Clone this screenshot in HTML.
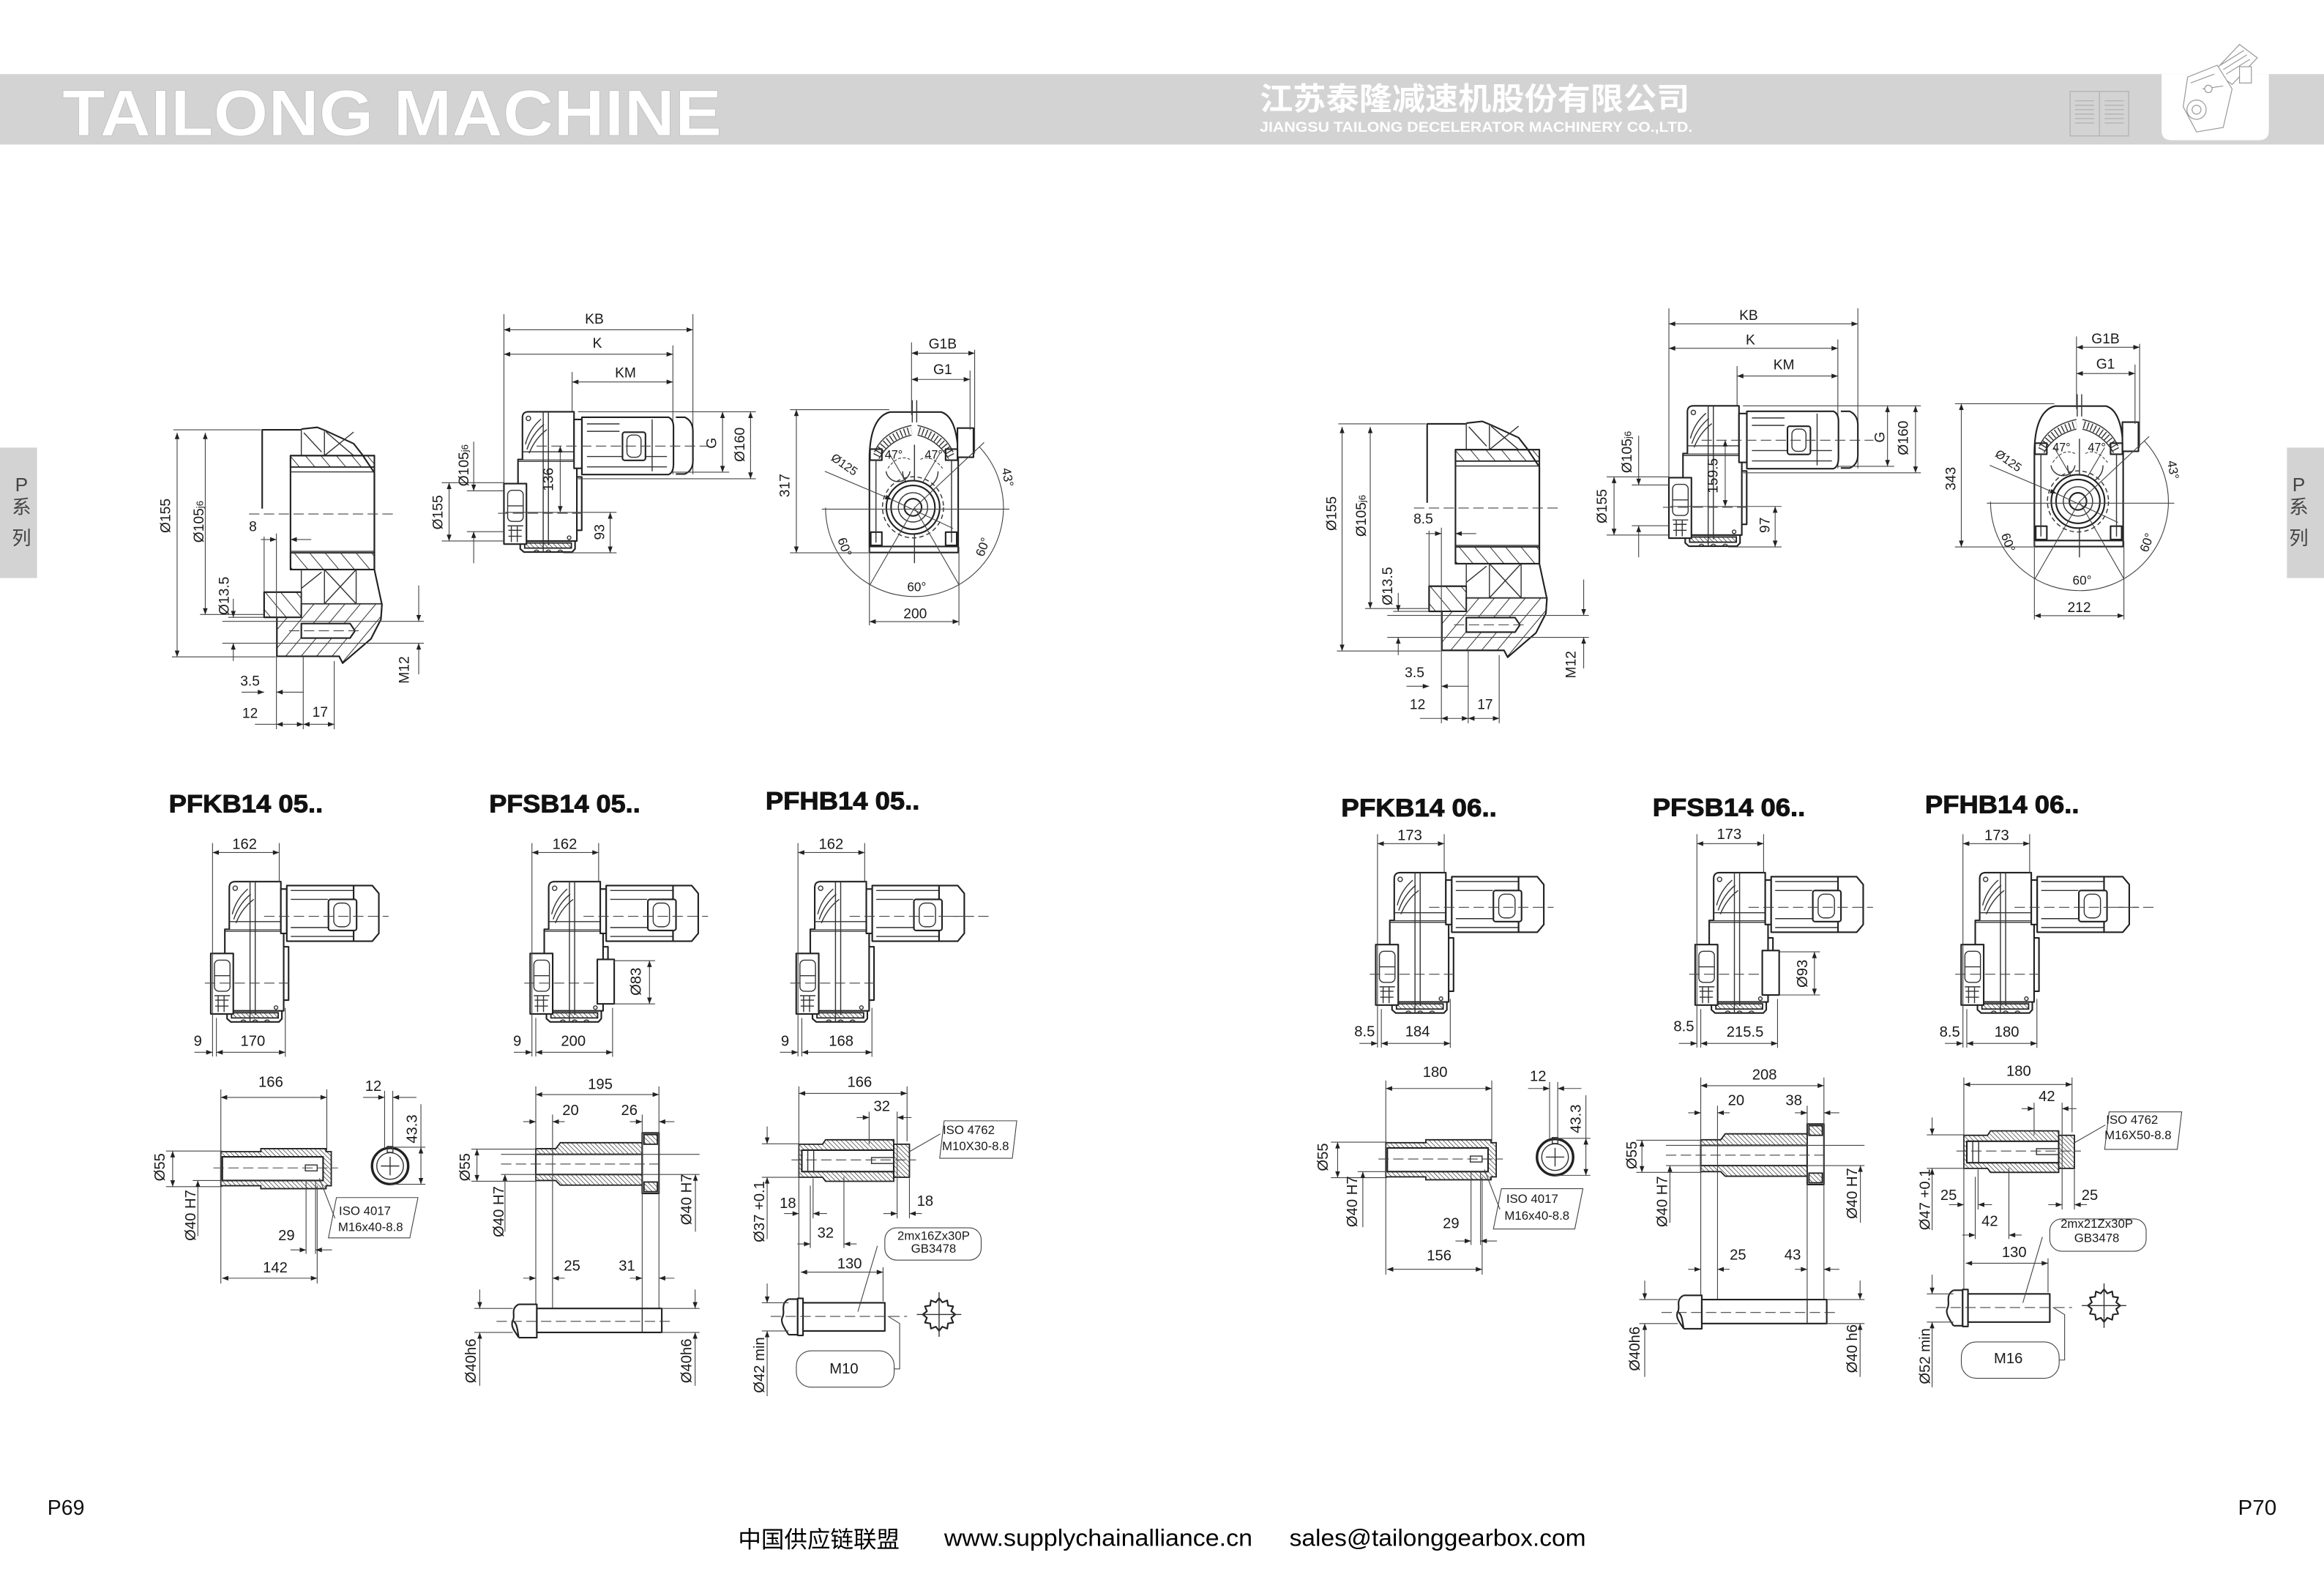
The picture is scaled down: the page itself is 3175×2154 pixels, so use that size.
<!DOCTYPE html>
<html><head><meta charset="utf-8">
<style>
html,body{margin:0;padding:0;background:#fff;width:3175px;height:2154px;overflow:hidden}
svg{display:block}
.o{fill:none;stroke:#222;stroke-width:1.05;stroke-linejoin:round}
.w{fill:#fff}
.m{fill:none;stroke:#333;stroke-width:0.7}
.t{fill:none;stroke:#444;stroke-width:0.55}
.c{fill:none;stroke:#444;stroke-width:0.55;stroke-dasharray:7 3}
.hf{fill:url(#h1);stroke:#222;stroke-width:0.9}
.hg{fill:url(#h3);stroke:#222;stroke-width:0.9}
.hs{fill:url(#h2);stroke:#222;stroke-width:0.9}
.da{marker-start:url(#ar);marker-end:url(#ar)}
.de{marker-end:url(#ar)}
.ds{marker-start:url(#ar)}
text{font-family:"Liberation Sans",Arial,sans-serif;fill:#1a1a1a}
.d{font-size:9.5px;text-anchor:middle;dominant-baseline:central}
.e{font-size:10px;text-anchor:middle;dominant-baseline:central}
.s{font-size:8.3px;text-anchor:middle;dominant-baseline:central}
.ti{font-size:17px;font-weight:bold;text-anchor:middle;dominant-baseline:central;fill:#111;stroke:#111;stroke-width:0.45}
</style></head><body>
<svg width="3175" height="2154" viewBox="0 0 1568 1064" preserveAspectRatio="none" xmlns="http://www.w3.org/2000/svg">
<defs>
<marker id="ar" viewBox="0 0 8 6" refX="8" refY="3" markerWidth="4.4" markerHeight="3.2" markerUnits="userSpaceOnUse" orient="auto-start-reverse"><path d="M0,0L8,3L0,6z" fill="#222"/></marker>
<pattern id="h1" width="8" height="8" patternUnits="userSpaceOnUse" patternTransform="rotate(-40)"><line x1="0" y1="0" x2="0" y2="8" stroke="#222" stroke-width="0.9"/></pattern>
<pattern id="h3" width="8" height="8" patternUnits="userSpaceOnUse" patternTransform="rotate(40)"><line x1="0" y1="0" x2="0" y2="8" stroke="#222" stroke-width="0.9"/></pattern>
<pattern id="h2" width="2.2" height="2.2" patternUnits="userSpaceOnUse" patternTransform="rotate(-45)"><line x1="0" y1="0" x2="0" y2="2.2" stroke="#222" stroke-width="0.65"/></pattern>
<g id="gu">
<path class="o w" d="M9.5,32.2H49.2V87.2H9.5Z"/>
<path class="o w" d="M12.5,32.2V4Q12.5,0 16.5,0H47.3V32.2"/>
<path class="o" d="M11,87.2V92.5L13.5,94.7H46L48,92.5V87.2"/>
<path class="hs" d="M14,88.5H45.5V92H14Z"/>
<path class="m" d="M20,94.7Q22,92 24,94.7M28,94.7Q30,92 32,94.7M36,94.7Q38,92 40,94.7"/>
<rect class="o w" x="0" y="48.5" width="15.2" height="40.8"/>
<rect class="m" x="2.5" y="53" width="10.5" height="21" rx="3"/>
<path class="m" d="M2.5,63.5H13M2.5,77H13M3,80H12M3,84H12M5,77V88M9,77V88"/>
<circle class="m" cx="16.5" cy="4.5" r="1.5"/>
<path class="m" d="M14.5,22Q17,12 25,5M15.5,25.5Q19,15 27,8.5M17,28Q21,18 29,12"/>
<path class="m" d="M26.5,0V94.7M30,0V90M12.5,27H47.3M9.5,33.5H49.2"/>
<path class="o" d="M49.2,44H52.5V80H49.2"/>
<circle class="m" cx="44" cy="85" r="1.2"/>
<path class="c" d="M-4,68.5H53"/>
</g>
<g id="sm">
<rect class="o w" x="47.3" y="5" width="4" height="30"/>
<rect class="o w" x="51.3" y="2.7" width="45.1" height="37.5"/>
<path class="o w" d="M96.4,2.7H109L113.4,8V35L109,40.2H96.4Z"/>
<path class="m" d="M54,6H96M54,12H79M54,31H96M54,37H96"/>
<rect class="o w" x="79.4" y="12" width="19" height="21" rx="1.5"/>
<rect class="m" x="83" y="14.5" width="11" height="16" rx="4"/>
<path class="c" d="M36,23.4H120"/>
</g>
<g id="sd">
<path class="t" d="M1.2,-26V118M46.2,-26V0M3.8,92V118"/>
<path class="t da" d="M1.2,-19.6H46.2"/>
<path class="t de" d="M-11,115.2H1.2"/>
</g>
<g id="sp">
<polygon class="o w" points="11,0 8.21,2.2 9.53,5.5 6.01,6.01 5.5,9.53 2.2,8.21 0,11 -2.2,8.21 -5.5,9.53 -6.01,6.01 -9.53,5.5 -8.21,2.2 -11,0 -8.21,-2.2 -9.53,-5.5 -6.01,-6.01 -5.5,-9.53 -2.2,-8.21 0,-11 2.2,-8.21 5.5,-9.53 6.01,-6.01 9.53,-5.5 8.21,-2.2"/>
<path class="m" d="M-15,0H15M0,-15V15"/>
</g>
</defs>

<!-- HEADER -->
<rect x="0" y="50" width="1568" height="47.5" fill="#d3d3d3"/>
<text x="42" y="91.4" textLength="445" lengthAdjust="spacingAndGlyphs" style="font-size:44px;font-weight:bold;fill:#fff;stroke:#c0c0c0;stroke-width:0.4">TAILONG MACHINE</text>
<text x="850" y="74" textLength="290" lengthAdjust="spacingAndGlyphs" style="font-family:'Liberation Sans','Noto Sans CJK SC',sans-serif;font-size:21px;font-weight:bold;fill:#fff">江苏泰隆减速机股份有限公司</text>
<text x="850" y="89" textLength="292" lengthAdjust="spacingAndGlyphs" style="font-size:9.5px;font-weight:bold;fill:#fff">JIANGSU TAILONG DECELERATOR MACHINERY CO.,LTD.</text>
<g fill="none" stroke="#b5b5b5" stroke-width="0.7">
<rect x="1396.7" y="61.7" width="39.5" height="30"/>
<path d="M1416.5,61.7V91.7M1400,68H1413M1400,71H1413M1400,74H1413M1400,77H1413M1400,80H1413M1400,83H1413M1420,68H1433M1420,71H1433M1420,74H1433M1420,77H1433M1420,80H1433M1420,83H1433"/>
</g>
<path d="M1458.4,50V88Q1458.4,94.6 1465,94.6H1524.2Q1530.8,94.6 1530.8,88V50Z" fill="#fff"/>
<g stroke="#9a9a9a" stroke-width="0.6" fill="#fff">
<path d="M1494,48L1511,30L1523,39L1506,57Z"/>
<path d="M1498,44L1514,34M1500,47L1516,37M1502,50L1518,40"/>
<rect x="1511" y="45" width="8" height="11"/>
<path d="M1476,52L1496,44L1506,60L1500,86L1482,89L1473,72Z"/>
<path d="M1478,56L1494,50M1486,60L1500,58"/>
<circle cx="1482" cy="74" r="6.5"/><circle cx="1482" cy="74" r="3"/>
<circle cx="1490" cy="60" r="2.5"/>
</g>

<!-- SIDE TABS -->
<rect x="0" y="302" width="25" height="88" fill="#d3d3d3"/>
<text x="14.5" y="327" style="font-family:'Liberation Sans','Noto Sans CJK SC',sans-serif;font-size:13px;fill:#444;text-anchor:middle;dominant-baseline:central">P</text>
<text x="14.5" y="342" style="font-family:'Liberation Sans','Noto Sans CJK SC',sans-serif;font-size:13px;fill:#444;text-anchor:middle;dominant-baseline:central">系</text>
<text x="14.5" y="363" style="font-family:'Liberation Sans','Noto Sans CJK SC',sans-serif;font-size:13px;fill:#444;text-anchor:middle;dominant-baseline:central">列</text>
<rect x="1543" y="302" width="25" height="88" fill="#d3d3d3"/>
<text x="1551" y="327" style="font-family:'Liberation Sans','Noto Sans CJK SC',sans-serif;font-size:13px;fill:#444;text-anchor:middle;dominant-baseline:central">P</text>
<text x="1551" y="342" style="font-family:'Liberation Sans','Noto Sans CJK SC',sans-serif;font-size:13px;fill:#444;text-anchor:middle;dominant-baseline:central">系</text>
<text x="1551" y="363" style="font-family:'Liberation Sans','Noto Sans CJK SC',sans-serif;font-size:13px;fill:#444;text-anchor:middle;dominant-baseline:central">列</text>

<!-- TOP GEOMETRY LEFT -->
<g id="topL">
<!-- section view -->
<path class="o" d="M176.9,343.2V290H203.3"/>
<path class="hg" d="M203.3,407.4H257.7L257,417.9L250.3,431L231.2,447.4L228.8,442.8H186.8V416.5H203.3Z"/>
<path class="hf" d="M178.2,399.5H203.3V416.5H178.2Z"/>
<path class="o w" d="M203.3,420.7H236.2L239.5,425.6L236.2,430.5H203.3Z"/>
<path class="c" d="M195,425.6H245"/>
<path class="o" d="M203.3,289.5L214,288.3L219.7,290.6L238.6,299.3L244.4,306.7L252.6,319V384.3L257.7,408L257,417.9L250.3,431L231.2,447.4L228.8,442.8H186.8V416.5H178.2V399.5H203.3"/>
<path class="m" d="M203.3,289.5V307.4M218.9,291V307.4M205,292L217,305M218.9,307.4L238.6,291.5M220,291.5L238.6,307.4"/>
<rect class="o" x="196" y="307.4" width="56.6" height="76.9"/>
<rect class="hf" x="196" y="307.4" width="56.6" height="7.7"/>
<rect class="hf" x="196" y="373" width="56.6" height="11.3"/>
<path class="m" d="M196,318.4H252.6M196,372H252.6"/>
<path class="m" d="M203.3,384.3V399.5M218.9,384.3V407.4M240.3,384.3V407.4M203.3,397L217,386M218.9,384.3L240.3,407.4M240.3,384.3L218.9,407.4M203.3,407.4H257.7"/>
<path class="t" d="M150,419.2H286M150,434H286"/>
<path class="c" d="M168,346.8H266"/>
<path class="t" d="M178.2,362V399.5M186.5,360V492M204.6,443V492M225.5,446V492"/>
<path class="t da" d="M119.5,292V443.2"/>
<path class="t" d="M116,443.2H186M117,290H176"/>
<path class="t da" d="M138.5,292V414.6"/>
<path class="t" d="M135,414.6H178"/>
<path class="t de" d="M157.4,404V416.5"/>
<path class="t ds" d="M157.4,434V446"/>
<path class="t" d="M154,416.5H178"/>
<path class="t de" d="M176,364H186.5"/>
<path class="t ds" d="M196,364H210"/>
<path class="t de" d="M282.5,395V419.2"/>
<path class="t ds" d="M282.5,434V455"/>
<path class="t de" d="M163,467H178.2"/>
<path class="t ds" d="M186.5,467H205"/>
<path class="t" d="M172,488.7H186.5"/>
<path class="t da" d="M186.5,488.7H204.6"/>
<path class="t da" d="M204.6,488.7H225.5"/>
<!-- side view -->
<path class="t" d="M340,212V366M467.5,212V320M454,233V320M386,251V282"/>
<path class="t da" d="M340,222.5H467.5"/>
<path class="t da" d="M340,239H454"/>
<path class="t da" d="M386,257.7H454"/>
<use href="#gu" transform="translate(340,277.8)"/>
<rect class="o w" x="387.3" y="283" width="5.3" height="33"/>
<path class="o w" d="M392.6,281.5H451Q454.4,283 454.4,288V313Q454.4,319 451,320.2H392.6Z"/>
<path class="o" d="M456,281.5H462Q467.5,284 467.5,291V311Q467.5,317.5 462,319.8H456"/>
<path class="m" d="M396,286H418M396,291H418M396,308H450M396,315H450M440,283V318"/>
<rect class="o w" x="420" y="291.6" width="15.5" height="19" rx="1.5"/>
<rect class="m" x="423" y="293.5" width="9.5" height="15" rx="3.5"/>
<path class="c" d="M362,301H478"/>
<path class="t" d="M390,277.8H510M452.6,318.6H492M390,323H510"/>
<path class="t da" d="M487.5,277.8V318.6"/>
<path class="t da" d="M506.4,277.8V323"/>
<path class="t de" d="M319.6,298V331.2"/>
<path class="t ds" d="M319.6,358.7V380"/>
<path class="t" d="M315,331.2H340M315,358.7H340"/>
<path class="t da" d="M303,325.7V365"/>
<path class="t" d="M298,325.7H340M298,365H340"/>
<path class="t da" d="M378,301V345.7"/>
<path class="t" d="M341,345.7H416M380,373H416"/>
<path class="t da" d="M411.7,345.7V373"/>
<!-- end view -->
<path class="o w" d="M586.6,372.8V310C586.6,290 592,280 600.5,278H635C642,280 646.5,290 646.5,310V372.8Z"/>
<path class="o" d="M586.6,368.7H646.5"/>
<rect class="o w" x="646" y="288.8" width="10.8" height="19.7"/>
<path class="m" d="M590,305Q596,291 615,287M593,309.5Q600,297 615,293.5M643,305Q637,291 619,287M640,309.5Q633,297 619,293.5"/>
<path d="M591.5,307.5Q598,294.5 615,290.3" fill="none" stroke="#333" stroke-width="5" stroke-dasharray="0.7 1.8"/>
<path d="M641.5,307.5Q635,294.5 619,290.3" fill="none" stroke="#333" stroke-width="5" stroke-dasharray="0.7 1.8"/>
<path class="m" d="M615.5,270V285M618.5,270V285M617,300V380"/>
<rect class="o" x="587" y="303" width="8" height="7.5"/>
<rect class="o" x="638" y="303" width="8" height="7.5"/>
<rect class="o" x="587.5" y="359" width="7.5" height="9"/>
<rect class="o" x="638" y="359" width="7.5" height="9"/>
<path class="m" d="M591,310V366M642,310V366"/>
<path class="m" d="M597.8,318A8.2,8.2 0 0 0 614,318M609,318A8.2,8.2 0 0 0 632.9,318"/>
<path class="t" d="M599,316Q606,306 614,310M621,310Q628,306 636,316" stroke-dasharray="2 1.2"/>
<path class="t" d="M617,335L600,306M617,335L634,306"/>
<circle class="o w" cx="616" cy="342.3" r="18"/>
<circle class="m" cx="616" cy="342.3" r="20.6" stroke-dasharray="3 2"/>
<circle class="o" cx="616" cy="342.3" r="14.8"/>
<circle class="m" cx="616" cy="342.3" r="9.9"/>
<circle class="o" cx="616" cy="342.3" r="5.8"/>
<path class="t" d="M554.5,343.5H681"/>
<path class="t" d="M557,342.5A60,60 0 1 0 660.9,301.6"/>
<path class="t" d="M617,342.5L587,394.5M617,342.5L647,394.5M617,342.5L664,298.5"/>
<path class="t de" d="M556.5,318L601.5,337"/>
<path class="t" d="M601.5,337L643,356.5"/>
<path class="t" d="M615,231V280M657.6,236V306M654.5,250V290"/>
<path class="t da" d="M615,238.3H657.6"/>
<path class="t da" d="M615,256H654.5"/>
<path class="t" d="M533,276.4H600M533,373H586"/>
<path class="t da" d="M537.3,276.4V373"/>
<path class="t" d="M586.6,369V422M647,369V422"/>
<path class="t da" d="M586.6,419.4H647"/>
</g>
<use href="#topL" transform="translate(786,-4)"/>

<!-- BOTTOM GEOMETRY LEFT -->
<g id="botL">
<use href="#gu" transform="translate(142.2,594.8)"/>
<use href="#sm" transform="translate(142.2,594.8)"/>
<use href="#sd" transform="translate(142.2,594.8)"/>
<path class="t da" d="M146,710H192.5"/>
<path class="t" d="M192.5,680V713"/>
<use href="#gu" transform="translate(357.7,594.8)"/>
<use href="#sm" transform="translate(357.7,594.8)"/>
<use href="#sd" transform="translate(357.7,594.8)"/>
<rect class="o w" x="403" y="647.3" width="11.4" height="30"/>
<path class="t" d="M414.4,648.2H442M414.4,677.3H442"/>
<path class="t da" d="M438.2,648.2V677.3"/>
<path class="t da" d="M361.5,710H413.3"/>
<path class="t" d="M413.3,680V713"/>
<use href="#gu" transform="translate(537.2,594.8)"/>
<use href="#sm" transform="translate(537.2,594.8)"/>
<use href="#sd" transform="translate(537.2,594.8)"/>
<path class="c" d="M640,618.2H669"/>
<path class="t da" d="M541,710H588.3"/>
<path class="t" d="M588.3,680V713"/>

<!-- shaft 1 -->
<path class="hs" d="M149,777H176V775H220V777H223.5V800H220V802H176V800H149Z"/>
<rect class="o w" x="150" y="780.5" width="68" height="16"/>
<rect class="m w" x="206" y="786" width="8" height="4"/>
<path class="c" d="M144,788H228"/>
<path class="t" d="M112,776.6H150M112,800.6H150M130,796.5H150"/>
<path class="t da" d="M116.5,776.6V800.6"/>
<path class="t ds" d="M133.5,796.5V834"/>
<path class="t" d="M149,735V866M220.5,735V776"/>
<path class="t da" d="M149,740.4H220.5"/>
<circle cx="263.2" cy="786.7" r="12.2" fill="#fff" stroke="#222" stroke-width="1.7"/>
<circle class="m" cx="263.2" cy="786.7" r="9"/>
<path class="m" d="M257,786.7H269.4M263.2,780.5V793"/>
<rect class="m w" x="261.3" y="773.5" width="3.8" height="4"/>
<path class="t" d="M259.5,736V775M265,736V775"/>
<path class="t de" d="M245,740.4H259.5"/>
<path class="t ds" d="M265,740.4H281"/>
<path class="t" d="M262,774H287M263,799H287M284,745V774"/>
<path class="t da" d="M284,774V799"/>
<path class="t" d="M227,808H282L276.5,835.2H221.6Z"/>
<path class="t" d="M215.5,795L226,822"/>
<path class="t" d="M206.5,796V846M212.9,796V846M214,800V866"/>
<path class="t de" d="M196,843.3H206.5"/>
<path class="t ds" d="M212.9,843.3H224"/>
<path class="t da" d="M149.8,862.4H214"/>

<!-- shaft 2 -->
<path class="hs" d="M361.5,775H375L378,771H433.3V799.6H378L375,796.5H361.5Z"/>
<rect class="o w" x="361.5" y="778.8" width="71.8" height="13.6"/>
<rect class="o w" x="433.3" y="764.4" width="11.3" height="40.8"/>
<rect class="hs" x="434.5" y="765.5" width="9" height="6.5"/>
<rect class="hs" x="434.5" y="797.5" width="9" height="6.5"/>
<path class="c" d="M338,785.4H448"/>
<path class="t" d="M318,775.3H362M318,797H362M338,778.8H472M338,792.4H472"/>
<path class="t da" d="M321.8,775.3V797"/>
<path class="t ds" d="M340.7,792.4V831"/>
<path class="t ds" d="M469.2,792.4V831"/>
<path class="t" d="M361.5,733V883M444.6,733V883M372.8,752V883M433.3,752V883"/>
<path class="t da" d="M361.5,738.5H444.6"/>
<path class="t de" d="M353,756.8H361.5"/>
<path class="t ds" d="M372.8,756.8H381"/>
<path class="t de" d="M425,756.8H433.3"/>
<path class="t ds" d="M444.6,756.8H455"/>
<path class="t de" d="M353,862.4H361.5"/>
<path class="t ds" d="M372.8,862.4H381"/>
<path class="t de" d="M425,862.4H433.3"/>
<path class="t ds" d="M444.6,862.4H455"/>
<path class="o w" d="M350,880H362.2V902.5H350"/>
<path class="o" d="M350,880C344,883 348,888 346,891C344,895 348,899 350,902.5M346,891C349,893 349,897 350,902.5"/>
<rect class="o w" x="362.2" y="882.8" width="84.3" height="16.2"/>
<path class="m" d="M433.3,882.8V899"/>
<path class="c" d="M335,891.5H452"/>
<path class="t" d="M320,882.8H346M320,899H346M446,882.8H472M446,899H472"/>
<path class="t de" d="M323.7,870V882.8"/>
<path class="t ds" d="M323.7,899V935"/>
<path class="t de" d="M469,870V882.8"/>
<path class="t ds" d="M469,899V935"/>

<!-- shaft 3 -->
<path class="hs" d="M539,772H555L557,769H603V797H557L555,794.3H539Z"/>
<rect class="hs" x="603" y="772" width="10.6" height="22.3"/>
<rect class="o w" x="541" y="776" width="62" height="14.5"/>
<path class="m" d="M545,776V790.5M549,776V790.5"/>
<rect class="m w" x="588" y="781" width="15" height="4"/>
<path class="c" d="M534,782.6H618"/>
<path class="t" d="M637,756.2H686L683,781.5H634Z"/>
<path class="t" d="M613.6,777L634.5,765"/>
<path class="t" d="M539,733V878M612,733V770M586.4,750V772M605.3,750V822M613.6,795V822M548.6,795V822M546.7,800V842M569.4,794V842"/>
<path class="t da" d="M539,737.7H612"/>
<path class="t de" d="M578,754H586.4"/>
<path class="t ds" d="M605.3,754H615"/>
<path class="t" d="M514,771.7H539M514,794.3H539"/>
<path class="t de" d="M517.6,760V771.7"/>
<path class="t ds" d="M517.6,794.3V836"/>
<path class="t de" d="M529,818.8H539"/>
<path class="t ds" d="M548.6,818.8H558"/>
<path class="t de" d="M596,818.8H605.3"/>
<path class="t ds" d="M613.6,818.8H622"/>
<path class="t de" d="M538,839.3H546.7"/>
<path class="t ds" d="M569.4,839.3H578"/>
<rect class="t" x="597" y="828.4" width="65" height="21.8" rx="8"/>
<path class="t" d="M595.8,855V878"/>
<path class="t da" d="M540.3,858.3H595.8"/>
<path class="o w" d="M532,876.5H538.2V900.5H532"/>
<path class="o" d="M532,876.5C526,880 530,885 528,888.5C526,892 530,897 532,900.5"/>
<rect class="o w" x="538.2" y="876" width="3.6" height="25"/>
<rect class="o w" x="541.8" y="879" width="55.2" height="19"/>
<path class="c" d="M520,888.2H612"/>
<path class="t" d="M592,840.6L578.8,885"/>
<use href="#sp" transform="translate(633.6,886.9)"/>
<path class="t" d="M514,879H532M514,898H532"/>
<path class="t de" d="M517.6,866V879"/>
<path class="t ds" d="M517.6,898V942"/>
<rect class="t" x="537.3" y="911.4" width="66" height="24.5" rx="10"/>
<path class="t" d="M603.4,923.6H607V893L599,888"/>
</g>
<use href="#botL" transform="translate(786,-6)"/>

<!-- TEXT LEFT TOP -->
<text class="d" transform="translate(112,348) rotate(-90)">Ø155</text>
<text class="d" transform="translate(134.6,352) rotate(-90)">Ø105<tspan style="font-size:6.5px">j6</tspan></text>
<text class="d" transform="translate(151.7,402) rotate(-90)">Ø13.5</text>
<text class="d" x="170.6" y="355.6">8</text>
<text class="d" transform="translate(273,452) rotate(-90)">M12</text>
<text class="d" x="168.7" y="460">3.5</text>
<text class="d" x="168.7" y="481.7">12</text>
<text class="d" x="216" y="481">17</text>
<text class="d" x="401" y="215.7">KB</text>
<text class="d" x="403" y="232">K</text>
<text class="d" x="422" y="252">KM</text>
<text class="d" transform="translate(480.5,299) rotate(-90)">G</text>
<text class="d" transform="translate(499.6,300) rotate(-90)">Ø160</text>
<text class="d" transform="translate(313.4,314) rotate(-90)">Ø105<tspan style="font-size:6.5px">j6</tspan></text>
<text class="d" transform="translate(295.8,345.7) rotate(-90)">Ø155</text>
<text class="d" transform="translate(370.3,323.5) rotate(-90)">136</text>
<text class="d" transform="translate(405,359) rotate(-90)">93</text>
<text class="d" x="636" y="232.4">G1B</text>
<text class="d" x="636" y="249.6">G1</text>
<text class="d" transform="translate(530,327.6) rotate(-90)">317</text>
<text class="d" style="font-size:8px" transform="translate(569.6,313.6) rotate(35)">Ø125</text>
<text class="d" style="font-size:8px" x="603" y="307">47°</text>
<text class="d" style="font-size:8px" x="630" y="307">47°</text>
<text class="d" style="font-size:8.5px" transform="translate(680,322) rotate(80)">43°</text>
<text class="d" style="font-size:8.5px" transform="translate(570,369) rotate(70)">60°</text>
<text class="d" style="font-size:8.5px" transform="translate(663,369) rotate(-70)">60°</text>
<text class="d" style="font-size:8.5px" x="618.5" y="396">60°</text>
<text class="d" x="617.5" y="414.5">200</text>

<!-- TEXT RIGHT TOP -->
<text class="d" transform="translate(898.8,346.5) rotate(-90)">Ø155</text>
<text class="d" transform="translate(918.7,348) rotate(-90)">Ø105<tspan style="font-size:6.5px">j6</tspan></text>
<text class="d" transform="translate(936.5,395.5) rotate(-90)">Ø13.5</text>
<text class="d" x="960.3" y="350.4">8.5</text>
<text class="d" transform="translate(1060.3,448.4) rotate(-90)">M12</text>
<text class="d" x="954.4" y="454.3">3.5</text>
<text class="d" x="956.4" y="475.8">12</text>
<text class="d" x="1002" y="475.8">17</text>
<text class="d" x="1179.8" y="213.2">KB</text>
<text class="d" x="1181" y="229.8">K</text>
<text class="d" x="1203.6" y="246.5">KM</text>
<text class="d" transform="translate(1268.7,295) rotate(-90)">G</text>
<text class="d" transform="translate(1284.5,295.5) rotate(-90)">Ø160</text>
<text class="d" transform="translate(1098,305) rotate(-90)">Ø105<tspan style="font-size:6.5px">j6</tspan></text>
<text class="d" transform="translate(1081.4,341.6) rotate(-90)">Ø155</text>
<text class="d" transform="translate(1156,321) rotate(-90)">159.5</text>
<text class="d" transform="translate(1191.3,354.3) rotate(-90)">97</text>
<text class="d" x="1420.6" y="228.9">G1B</text>
<text class="d" x="1420.6" y="246.1">G1</text>
<text class="d" transform="translate(1316.7,323) rotate(-90)">343</text>
<text class="d" style="font-size:8px" transform="translate(1355,311) rotate(35)">Ø125</text>
<text class="d" style="font-size:8px" x="1390.9" y="302">47°</text>
<text class="d" style="font-size:8px" x="1414.7" y="302">47°</text>
<text class="d" style="font-size:8.5px" transform="translate(1466.3,317) rotate(80)">43°</text>
<text class="d" style="font-size:8.5px" transform="translate(1355,366) rotate(70)">60°</text>
<text class="d" style="font-size:8.5px" transform="translate(1448.4,366) rotate(-70)">60°</text>
<text class="d" style="font-size:8.5px" x="1404.8" y="391.5">60°</text>
<text class="d" x="1402.8" y="410.2">212</text>

<!-- TITLES -->
<text class="ti" x="165.9" y="542.6" textLength="104" lengthAdjust="spacingAndGlyphs">PFKB14 05..</text>
<text class="ti" x="381" y="542.6" textLength="102" lengthAdjust="spacingAndGlyphs">PFSB14 05..</text>
<text class="ti" x="568.5" y="540.7" textLength="104" lengthAdjust="spacingAndGlyphs">PFHB14 05..</text>
<text class="ti" x="957.4" y="545.3" textLength="105" lengthAdjust="spacingAndGlyphs">PFKB14 06..</text>
<text class="ti" x="1166.5" y="545" textLength="103" lengthAdjust="spacingAndGlyphs">PFSB14 06..</text>
<text class="ti" x="1350.8" y="543" textLength="104" lengthAdjust="spacingAndGlyphs">PFHB14 06..</text>

<!-- TEXT LEFT BOTTOM -->
<text class="e" x="165" y="569.8">162</text>
<text class="e" x="381" y="569.8">162</text>
<text class="e" x="560.7" y="569.8">162</text>
<text class="e" x="133.5" y="702.6">9</text>
<text class="e" x="170.6" y="702.6">170</text>
<text class="e" x="349" y="702.6">9</text>
<text class="e" x="386.8" y="702.6">200</text>
<text class="e" x="529.7" y="702.6">9</text>
<text class="e" x="567.5" y="702.6">168</text>
<text class="e" transform="translate(429.5,662.3) rotate(-90)">Ø83</text>
<text class="e" x="182.7" y="730.4">166</text>
<text class="e" x="251.9" y="733">12</text>
<text class="e" transform="translate(278.3,761.7) rotate(-90)">43.3</text>
<text class="e" transform="translate(108.2,787.5) rotate(-90)">Ø55</text>
<text class="e" transform="translate(129,820) rotate(-90)">Ø40 H7</text>
<text class="s" x="246.2" y="816.9">ISO 4017</text>
<text class="s" x="250" y="827.8">M16x40-8.8</text>
<text class="e" x="193.3" y="833.8">29</text>
<text class="e" x="185.7" y="855.6">142</text>
<text class="e" x="405" y="731.7">195</text>
<text class="e" x="385" y="749.4">20</text>
<text class="e" x="424.6" y="749.4">26</text>
<text class="e" transform="translate(314.2,787.5) rotate(-90)">Ø55</text>
<text class="e" transform="translate(336.9,817.5) rotate(-90)">Ø40 H7</text>
<text class="e" transform="translate(463.5,809.3) rotate(-90)">Ø40 H7</text>
<text class="e" x="386" y="854.2">25</text>
<text class="e" x="423" y="854.2">31</text>
<text class="e" transform="translate(318,918.2) rotate(-90)">Ø40h6</text>
<text class="e" transform="translate(463.5,918.2) rotate(-90)">Ø40h6</text>
<text class="e" x="580" y="730.4">166</text>
<text class="e" x="595" y="746.7">32</text>
<text class="s" x="653.6" y="762.5">ISO 4762</text>
<text class="s" x="658.2" y="773.4">M10X30-8.8</text>
<text class="e" transform="translate(512.7,817.5) rotate(-90)">Ø37 +0.1</text>
<text class="e" x="531.6" y="812">18</text>
<text class="e" x="624.2" y="810.7">18</text>
<text class="e" x="557" y="832">32</text>
<text class="s" x="629.9" y="833.8">2mx16Zx30P</text>
<text class="s" x="629.9" y="842.5">GB3478</text>
<text class="e" x="573.2" y="852.9">130</text>
<text class="e" transform="translate(512.7,921) rotate(-90)">Ø42 min</text>
<text class="e" x="569.4" y="923.6">M10</text>

<!-- TEXT RIGHT BOTTOM -->
<text class="e" x="951.2" y="563.8">173</text>
<text class="e" x="1166.7" y="563">173</text>
<text class="e" x="1347.2" y="563.8">173</text>
<text class="e" x="920.7" y="696.3">8.5</text>
<text class="e" x="956.4" y="696.3">184</text>
<text class="e" x="1136.1" y="692.8">8.5</text>
<text class="e" x="1177.4" y="696.4">215.5</text>
<text class="e" x="1315.5" y="696.4">8.5</text>
<text class="e" x="1354" y="696.4">180</text>
<text class="e" transform="translate(1216.3,656.9) rotate(-90)">Ø93</text>
<text class="e" x="968.3" y="723.6">180</text>
<text class="e" x="1037.7" y="726.3">12</text>
<text class="e" transform="translate(1063.5,754.9) rotate(-90)">43.3</text>
<text class="e" transform="translate(892.9,780.7) rotate(-90)">Ø55</text>
<text class="e" transform="translate(912.7,810.7) rotate(-90)">Ø40 H7</text>
<text class="s" x="1033.8" y="808.8">ISO 4017</text>
<text class="s" x="1037" y="820.2">M16x40-8.8</text>
<text class="e" x="979" y="825.6">29</text>
<text class="e" x="971" y="847.4">156</text>
<text class="e" x="1190.5" y="725.5">208</text>
<text class="e" x="1171.4" y="742.6">20</text>
<text class="e" x="1210.3" y="742.6">38</text>
<text class="e" transform="translate(1101.2,779.4) rotate(-90)">Ø55</text>
<text class="e" transform="translate(1121.8,810.7) rotate(-90)">Ø40 H7</text>
<text class="e" transform="translate(1250,805.2) rotate(-90)">Ø40 H7</text>
<text class="e" x="1172.6" y="846.9">25</text>
<text class="e" x="1209.5" y="846.9">43</text>
<text class="e" transform="translate(1103.2,910) rotate(-90)">Ø40h6</text>
<text class="e" transform="translate(1250,910) rotate(-90)">Ø40 h6</text>
<text class="e" x="1362" y="723">180</text>
<text class="e" x="1381" y="740">42</text>
<text class="s" x="1438.5" y="755.4">ISO 4762</text>
<text class="s" x="1442.5" y="765.8">M16X50-8.8</text>
<text class="e" transform="translate(1299,809.3) rotate(-90)">Ø47 +0.1</text>
<text class="e" x="1314.7" y="806.6">25</text>
<text class="e" x="1410" y="806.6">25</text>
<text class="e" x="1342.5" y="824.3">42</text>
<text class="s" x="1414.7" y="825.6">2mx21Zx30P</text>
<text class="s" x="1414.7" y="835.2">GB3478</text>
<text class="e" x="1359" y="845.2">130</text>
<text class="e" transform="translate(1299,915) rotate(-90)">Ø52 min</text>
<text class="e" x="1355" y="916.8">M16</text>

<!-- FOOTER -->
<text x="32" y="1022" textLength="25" lengthAdjust="spacingAndGlyphs" style="font-size:14px;fill:#111">P69</text>
<text x="1510" y="1022" textLength="26" lengthAdjust="spacingAndGlyphs" style="font-size:14px;fill:#111">P70</text>
<text x="498" y="1044" textLength="109" lengthAdjust="spacingAndGlyphs" style="font-family:'Liberation Sans','Noto Sans CJK SC',sans-serif;font-size:15.5px;fill:#000">中国供应链联盟</text>
<text x="637" y="1043" textLength="208" lengthAdjust="spacingAndGlyphs" style="font-size:16px;fill:#000">www.supplychainalliance.cn</text>
<text x="870" y="1043" textLength="200" lengthAdjust="spacingAndGlyphs" style="font-size:16px;fill:#000">sales@tailonggearbox.com</text>
</svg>
</body></html>
